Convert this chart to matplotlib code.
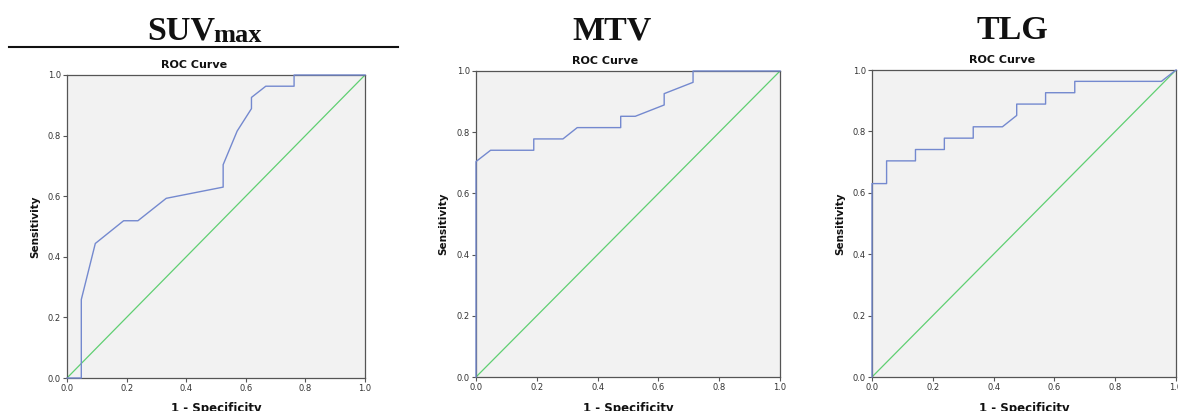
import matplotlib
matplotlib.use('Agg')
import matplotlib.pyplot as plt
from matplotlib.lines import Line2D

# ROC curve points (1 - specificity, sensitivity)
suv_fpr = [0.0, 0.048, 0.048, 0.095, 0.190, 0.238, 0.333, 0.524, 0.524, 0.571,
           0.619, 0.619, 0.667, 0.762, 0.762, 1.0]
suv_tpr = [0.0, 0.0, 0.259, 0.444, 0.519, 0.519, 0.593, 0.630, 0.704, 0.815,
           0.889, 0.926, 0.963, 0.963, 1.0, 1.0]

mtv_fpr = [0.0, 0.0, 0.048, 0.190, 0.190, 0.286, 0.333, 0.476, 0.476, 0.524,
           0.619, 0.619, 0.714, 0.714, 1.0]
mtv_tpr = [0.0, 0.704, 0.741, 0.741, 0.778, 0.778, 0.815, 0.815, 0.852, 0.852,
           0.889, 0.926, 0.963, 1.0, 1.0]

tlg_fpr = [0.0, 0.0, 0.048, 0.048, 0.143, 0.143, 0.238, 0.238, 0.333, 0.333,
           0.429, 0.476, 0.476, 0.571, 0.571, 0.667, 0.667, 0.952, 1.0]
tlg_tpr = [0.0, 0.630, 0.630, 0.704, 0.704, 0.741, 0.741, 0.778, 0.778, 0.815,
           0.815, 0.852, 0.889, 0.889, 0.926, 0.926, 0.963, 0.963, 1.0]

ref_line = [0.0, 1.0]
ticks = [0.0, 0.2, 0.4, 0.6, 0.8, 1.0]
tick_labels = ['0.0', '0.2', '0.4', '0.6', '0.8', '1.0']

W, H = 1178, 411
fig = plt.figure(figsize=(W / 100, H / 100), dpi=100)
fig.patch.set_facecolor('white')


def fx(px):
    return px / W


def fy(py):
    return 1 - py / H


BLUE = '#7489cf'
GREEN = '#5fcf72'
SPINE = '#555555'

# pixel boxes: left, top, right, bottom
panels = [
    dict(box=(67, 75, 365, 378), fpr=suv_fpr, tpr=suv_tpr, title_x=194, title_y=68, ylab_x=35),
    dict(box=(476, 71, 780, 377), fpr=mtv_fpr, tpr=mtv_tpr, title_x=605, title_y=64, ylab_x=443),
    dict(box=(872, 70, 1176, 377), fpr=tlg_fpr, tpr=tlg_tpr, title_x=1002, title_y=63, ylab_x=840),
]

for p in panels:
    l, t, r, b = p['box']
    ax = fig.add_axes([fx(l), fy(b), (r - l) / W, (b - t) / H])
    ax.set_facecolor('#f2f2f2')
    ax.plot(ref_line, ref_line, color=GREEN, linewidth=0.9, zorder=2)
    ax.plot(p['fpr'], p['tpr'], color=BLUE, linewidth=1.0, zorder=3, clip_on=False)
    ax.set_xlim(0, 1)
    ax.set_ylim(0, 1)
    ax.set_xticks(ticks)
    ax.set_yticks(ticks)
    ax.set_xticklabels(tick_labels)
    ax.set_yticklabels(tick_labels)
    ax.tick_params(direction='out', length=3, width=0.8, color=SPINE,
                   labelsize=6, labelcolor='#333333', pad=1.5)
    for s in ax.spines.values():
        s.set_color(SPINE)
        s.set_linewidth(0.9)
    fig.text(fx(p['title_x']), fy(p['title_y']), 'ROC Curve', ha='center', va='baseline',
             fontsize=8, fontweight='bold', color='#111111')
    fig.text(fx((l + r) / 2), fy(402), '1 - Specificity', ha='center', va='top',
             fontsize=8.5, fontweight='bold', color='#111111')
    fig.text(fx(p['ylab_x']), fy((t + b) / 2), 'Sensitivity', ha='center', va='center',
             rotation=90, fontsize=7.5, fontweight='bold', color='#111111')

# big headings above each chart
serif = 'Liberation Serif'
fig.text(fx(215), fy(39), 'SUV', ha='right', va='baseline', fontsize=24.5,
         fontweight='bold', family=serif, color='#111111')
fig.text(fx(213), fy(41.5), 'max', ha='left', va='baseline', fontsize=19,
         fontweight='bold', family=serif, color='#111111')
fig.text(fx(612), fy(39), 'MTV', ha='center', va='baseline', fontsize=24.5,
         fontweight='bold', family=serif, color='#111111')
fig.text(fx(1012), fy(39), 'TLG', ha='center', va='baseline', fontsize=24.5,
         fontweight='bold', family=serif, color='#111111')

fig.add_artist(Line2D([fx(9), fx(398)], [fy(47), fy(47)], color='#111111', linewidth=1.5))

fig.savefig('out.png', dpi=100)
